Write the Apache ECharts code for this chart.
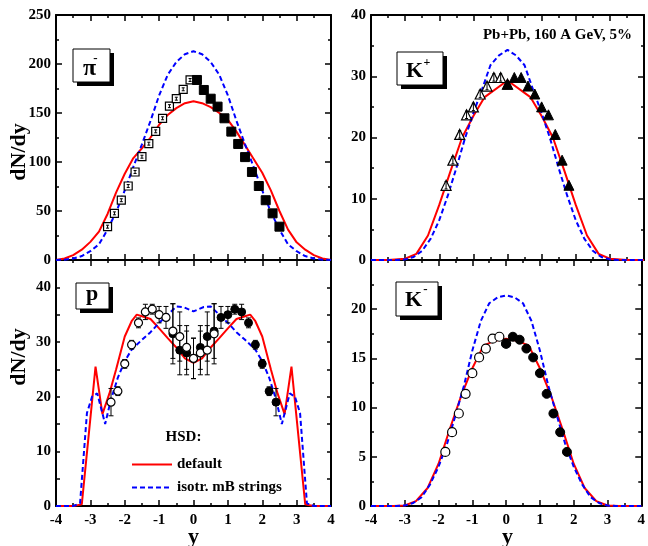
<!DOCTYPE html>
<html><head><meta charset="utf-8">
<script src="https://cdn.jsdelivr.net/npm/echarts@6/dist/echarts.min.js"></script>
<style>html,body{margin:0;padding:0;background:#fff}#c{width:648px;height:546px}</style>
</head><body><div id="c"></div>
<script>
const FONT = '"Liberation Serif","Times New Roman",serif';

// ---------- pi- panel ----------
const piLineX = [-4,-3.75,-3.5,-3.25,-3,-2.75,-2.5,-2.25,-2,-1.75,-1.5,-1.25,-1,-0.75,-0.5,-0.25,0,0.25,0.5,0.75,1,1.25,1.5,1.75,2,2.25,2.5,2.75,3,3.25,3.5,3.75,4];
const piRed  = [0,1.5,5,10.5,18.5,29,47,69,88,104,114,125,138,148,155,160,162,160,156,150,143,131,117,103,89,71,50,31,18,10.5,5,1.5,0];
const piBlue = [0,0.3,1.5,4,9,16,31,49,71,95,118,142,168,189,202,210,213,210,202,189,168,142,118,95,71,49,31,16,9,4,1.5,0.3,0];
const piXOpen = [-2.5,-2.3,-2.1,-1.9,-1.7,-1.5,-1.3,-1.1,-0.9,-0.7,-0.5,-0.3,-0.1];
const piOpen  = [34,47.6,61,75.5,89.8,105.4,118.7,131.3,144.6,157,164.6,174.2,183.7];
const piOpenErr = [1.5,1.5,1.5,1.5,1.5,1.5,1.5,1.5,1.5,1.5,1.5,1.5,1.5];
const piXFilled = [0.1,0.3,0.5,0.7,0.9,1.1,1.3,1.5,1.7,1.9,2.1,2.3,2.5];
const piFilled  = [183.7,173.5,164.6,156.5,144.6,131,118.4,105,89.8,75.5,61,47.6,34];

// ---------- K+ panel ----------
const kpRedX = [-4,-3.5,-3,-2.67,-2.33,-2,-1.67,-1.33,-1,-0.67,0,0.67,1,1.33,1.67,2,2.33,2.67,3,3.5,4];
const kpRed  = [0,0,0.2,1,4,9,14.5,20,23.5,26.6,29.3,26.6,23.5,20,14.5,9,4,1,0.2,0,0];
const kpBlueX = [-4,-3.75,-3.5,-3.25,-3,-2.75,-2.5,-2.25,-2,-1.75,-1.5,-1.25,-1,-0.75,-0.5,-0.25,0,0.25,0.5,0.75,1,1.25,1.5,1.75,2,2.25,2.5,2.75,3,3.25,3.5,3.75,4];
const kpBlue  = [0,0,0,0,0.1,0.5,1.5,3.5,6.5,10.5,15,19.8,24,27.8,31.8,33.4,34.3,33.4,31.8,27.8,24,19.8,15,10.5,6.5,3.5,1.5,0.5,0.1,0,0,0,0];
const kpXOpen = [-1.8,-1.6,-1.4,-1.2,-1.0,-0.8,-0.6,-0.4,-0.2,0];
const kpOpen  = [12.2,16.3,20.5,23.7,25.0,27.1,28.4,29.8,29.8,28.7];
const kpXFilled = [0,0.2,0.4,0.6,0.8,1.0,1.2,1.4,1.6,1.8];
const kpFilled  = [28.7,29.8,29.8,28.4,27.1,25.0,23.7,20.5,16.3,12.2];
const kpErr = [0.6,0.6,0.6,0.6,0.6,0.6,0.6,0.6,0.6,0.6];

// ---------- p panel ----------
const pRedX = [-4,-3.5,-3.25,-2.85,-2.65,-2.45,-2.25,-2,-1.8,-1.65,-1.5,-1.25,-1,-0.75,-0.5,-0.25,0,0.25,0.5,0.75,1,1.25,1.5,1.65,1.8,2,2.25,2.45,2.65,2.85,3.25,3.5,4];
const pRed  = [0,0,0.3,25.5,16.8,20.5,25,31,33.8,35,34.7,34.2,32.5,30.7,29,27,26.2,27,29,30.7,32.5,34.2,34.7,35,33.8,31,25,20.5,16.8,25.5,0.3,0,0];
const pBlueX = [-4,-3.5,-3.3,-3.1,-2.95,-2.8,-2.57,-2.4,-2.2,-2,-1.8,-1.5,-1.25,-1,-0.75,-0.5,-0.3,0,0.3,0.5,0.75,1,1.25,1.5,1.8,2,2.2,2.4,2.57,2.8,2.95,3.1,3.3,3.5,4];
const pBlue  = [0,0,0.5,17,20,20.6,15,19.5,23.5,26.5,28.6,30.4,31.8,33.5,35,36.5,36.4,35.6,36.4,36.5,35,33.5,31.8,30.4,28.6,26.5,23.5,19.5,15,20.6,20,17,0.5,0,0];
const pXOpen = [-2.4,-2.2,-2.0,-1.8,-1.6,-1.4,-1.2,-1.0,-0.8,-0.6,-0.4,-0.2,0,0.2,0.4,0.6];
const pOpen  = [19,21,26,29.5,33.5,35.5,36,35,34.5,32,31,29,27,28,28.5,31.5];
const pOpenErr = [2.5,0.8,0.8,0.8,0.9,1.4,0.9,1.5,2,5,4.5,4,3.7,4,4.5,5.5];
const pXFilled = [-0.6,-0.4,-0.2,0,0.2,0.4,0.6,0.8,1.0,1.2,1.4,1.6,1.8,2.0,2.2,2.4];
const pFilled  = [31.5,28.5,28,27,29,31,32,34.5,35,36,35.5,33.5,29.5,26,21,19];
const pFilledErr = [5.5,4.5,4,3.7,4,4.5,5,2,1.5,0.9,1.4,0.9,0.8,0.8,0.8,2.5];

// ---------- K- panel ----------
const kmRedX = [-4,-3.33,-3,-2.67,-2.33,-2,-1.67,-1.33,-1,-0.67,-0.33,0,0.33,0.67,1,1.33,1.67,2,2.33,2.67,3,3.33,4];
const kmRed  = [0,0,0.05,0.5,1.8,4.3,7.8,11.2,14,16.3,16.8,17,16.8,16.3,14,11.2,7.8,4.3,1.8,0.5,0.05,0,0];
const kmBlueX = [-4,-3.75,-3.5,-3.25,-3,-2.75,-2.5,-2.25,-2,-1.75,-1.5,-1.25,-1,-0.75,-0.5,-0.25,0,0.25,0.5,0.75,1,1.25,1.5,1.75,2,2.25,2.5,2.75,3,3.25,3.5,3.75,4];
const kmBlue  = [0,0,0,0,0.05,0.3,0.9,2.2,4,6.3,9.2,12.2,15.8,18.8,20.6,21.2,21.4,21.2,20.6,18.8,15.8,12.2,9.2,6.3,4,2.2,0.9,0.3,0.05,0,0,0,0];
const kmXOpen = [-1.8,-1.6,-1.4,-1.2,-1.0,-0.8,-0.6,-0.4,-0.2,0];
const kmOpen  = [5.5,7.5,9.4,11.4,13.5,15.1,16.0,17.0,17.2,16.5];
const kmXFilled = [0,0.2,0.4,0.6,0.8,1.0,1.2,1.4,1.6,1.8];
const kmFilled  = [16.5,17.2,16.9,16.0,15.1,13.5,11.4,9.4,7.5,5.5];

const xTickLabels = ['-4','-3','-2','-1','0','1','2','3','4'];

// ---------- layout ----------
const grids = [
  {left:56, top:15, width:275, height:245},
  {left:371, top:15, width:273, height:245},
  {left:56, top:260, width:275, height:246},
  {left:371, top:260, width:273, height:246}
];
const yCfg = [
  {max:250, interval:50, minor:2, hideMax:false},
  {max:40, interval:10, minor:2, hideMax:false},
  {max:45, interval:5, minor:0, every:10},
  {max:25, interval:5, minor:2, hideMax:true}
];

const lineStyleAxis = {color:'#000', width:2};
const tickStyle = {color:'#000', width:1.5};
const lbl = {color:'#000', fontFamily:FONT, fontWeight:'bold', fontSize:15};

const xAxes = [], yAxes = [];
for (let g = 0; g < 4; g++) {
  for (const pos of ['bottom','top']) {
    xAxes.push({
      type:'value', gridIndex:g, position:pos, min:-4, max:4, interval:1,
      axisLine:{show:true, onZero:false, lineStyle:lineStyleAxis},
      axisTick:{show:true, inside:true, length:6, lineStyle:tickStyle},
      minorTick:{show:true, splitNumber:2, length:3, lineStyle:tickStyle},
      splitLine:{show:false},
      axisLabel:Object.assign({show: pos==='bottom' && g>=2, margin:7,
        formatter: v => xTickLabels[Math.round(v)+4]}, lbl)
    });
  }
  const c = yCfg[g];
  for (const pos of ['left','right']) {
    yAxes.push({
      type:'value', gridIndex:g, position:pos, min:0, max:c.max, interval:c.interval,
      axisLine:{show:true, onZero:false, lineStyle:lineStyleAxis},
      axisTick:{show:true, inside:true, length: c.every ? 4 : 6, lineStyle:tickStyle},
      minorTick:{show: c.minor>0, splitNumber: c.minor || 2, length:3, lineStyle:tickStyle},
      splitLine:{show:false},
      axisLabel:Object.assign({show: pos==='left', margin:5,
        formatter: v => {
          if (c.every) return (v % c.every === 0 && v < c.max) ? String(v) : '';
          if (c.hideMax && v >= c.max) return '';
          return String(v);
        }}, lbl)
    });
  }
}

function zip(xs, ys) { return xs.map((x,i)=>[x, ys[i]]); }
function lineS(g, name, xs, ys, color, dashed) {
  return {type:'line', name, xAxisIndex:2*g, yAxisIndex:2*g, data:zip(xs,ys),
    symbol:'none', showSymbol:false, smooth:false, silent:true, z:2, clip:true,
    lineStyle:{color, width:2, type: dashed ? [5,3] : 'solid'}, itemStyle:{color}};
}
function scat(g, xs, ys, symbol, size, filled, z) {
  return {type:'scatter', xAxisIndex:2*g, yAxisIndex:2*g, data:zip(xs,ys), symbol, symbolSize:size,
    silent:true, z: z || 4,
    itemStyle: filled ? {color:'#000', borderColor:'#000', borderWidth:1, opacity:1}
                      : {color:'#fff', borderColor:'#000', borderWidth:1.2, opacity:1}};
}
function errS(g, xs, ys, es, cap, z) {
  return {type:'custom', xAxisIndex:2*g, yAxisIndex:2*g, silent:true, z,
    data: xs.map((x,i)=>[x, ys[i], es[i]]), encode:{x:0, y:1},
    renderItem: (params, api) => {
      const x = api.value(0), y = api.value(1), e = api.value(2);
      const t = api.coord([x, y+e]), b = api.coord([x, y-e]);
      const st = {stroke:'#000', lineWidth:1};
      return {type:'group', children:[
        {type:'line', shape:{x1:t[0], y1:t[1], x2:b[0], y2:b[1]}, style:st},
        {type:'line', shape:{x1:t[0]-cap, y1:t[1], x2:t[0]+cap, y2:t[1]}, style:st},
        {type:'line', shape:{x1:b[0]-cap, y1:b[1], x2:b[0]+cap, y2:b[1]}, style:st}
      ]};
    }};
}

const RED = '#ff0000', BLUE = '#0000ff';
const DEF = 'default', ISO = 'isotr. mB strings';
const series = [
  // pi-
  lineS(0, DEF, piLineX, piRed, RED, false),
  lineS(0, ISO, piLineX, piBlue, BLUE, true),
  scat(0, piXOpen, piOpen, 'rect', 8, false, 4),
  errS(0, piXOpen, piOpen, piOpenErr, 1.5, 5),
  scat(0, piXFilled, piFilled, 'rect', 9, true, 4),
  // K+
  lineS(1, DEF, kpRedX, kpRed, RED, false),
  lineS(1, ISO, kpBlueX, kpBlue, BLUE, true),
  scat(1, kpXOpen, kpOpen, 'triangle', 10, false, 4),
  scat(1, kpXFilled, kpFilled, 'triangle', 10, true, 4),
  errS(1, kpXOpen, kpOpen, kpErr, 1.5, 5),
  // p
  lineS(2, DEF, pRedX, pRed, RED, false),
  lineS(2, ISO, pBlueX, pBlue, BLUE, true),
  errS(2, pXOpen, pOpen, pOpenErr, 2.5, 3),
  errS(2, pXFilled, pFilled, pFilledErr, 2.5, 3),
  scat(2, pXFilled, pFilled, 'circle', 8, true, 4),
  scat(2, pXOpen, pOpen, 'circle', 8, false, 4),
  // K-
  lineS(3, DEF, kmRedX, kmRed, RED, false),
  lineS(3, ISO, kmBlueX, kmBlue, BLUE, true),
  scat(3, kmXOpen, kmOpen, 'circle', 9, false, 4),
  scat(3, kmXFilled, kmFilled, 'circle', 9, true, 4)
];

function box(x, y, w, h) {
  return [
    {type:'rect', shape:{x:x+4, y:y+4, width:w, height:h}, style:{fill:'#000'}, z:10},
    {type:'rect', shape:{x, y, width:w, height:h}, style:{fill:'#fff', stroke:'#000', lineWidth:1}, z:11}
  ];
}
function txt(x, y, text, size, extra) {
  return Object.assign({type:'text', x, y, z:12,
    style:{text, font:'bold '+size+'px '+FONT, fill:'#000', align:'center', verticalAlign:'middle'}}, extra || {});
}

const graphics = [].concat(
  box(73, 49, 37, 33),
  [txt(89.5, 69, 'π', 24), txt(95.5, 59, '-', 13)],
  box(397, 52, 46, 33),
  [txt(414.5, 71, 'K', 22), txt(427, 63, '+', 12)],
  box(76, 283, 33, 26),
  [txt(92, 294, 'p', 22)],
  box(396, 282, 42, 34),
  [txt(413.5, 300, 'K', 22), txt(425.5, 290, '-', 13)],
  [
    {type:'text', x:632, y:35, z:12, style:{text:'Pb+Pb, 160 A GeV, 5%', font:'bold 15px '+FONT, fill:'#000', align:'right', verticalAlign:'middle'}},
    txt(183.5, 437, 'HSD:', 15),
    txt(19, 152, 'dN/dy', 22, {rotation:Math.PI/2}),
    txt(19, 357, 'dN/dy', 22, {rotation:Math.PI/2}),
    txt(193.5, 537, 'y', 22),
    txt(507.5, 537, 'y', 22)
  ]
);

const chart = echarts.init(document.getElementById('c'), null, {renderer:'canvas'});
chart.setOption({
  animation:false,
  backgroundColor:'#fff',
  grid: grids,
  xAxis: xAxes,
  yAxis: yAxes,
  legend: {
    orient:'vertical', left:126, top:452, itemWidth:40, itemHeight:14, itemGap:8,
    selectedMode:false,
    itemStyle:{opacity:0},
    textStyle:{color:'#000', fontFamily:FONT, fontWeight:'bold', fontSize:15},
    data:[DEF, ISO]
  },
  series,
  graphic: graphics
});
</script>
</body></html>
